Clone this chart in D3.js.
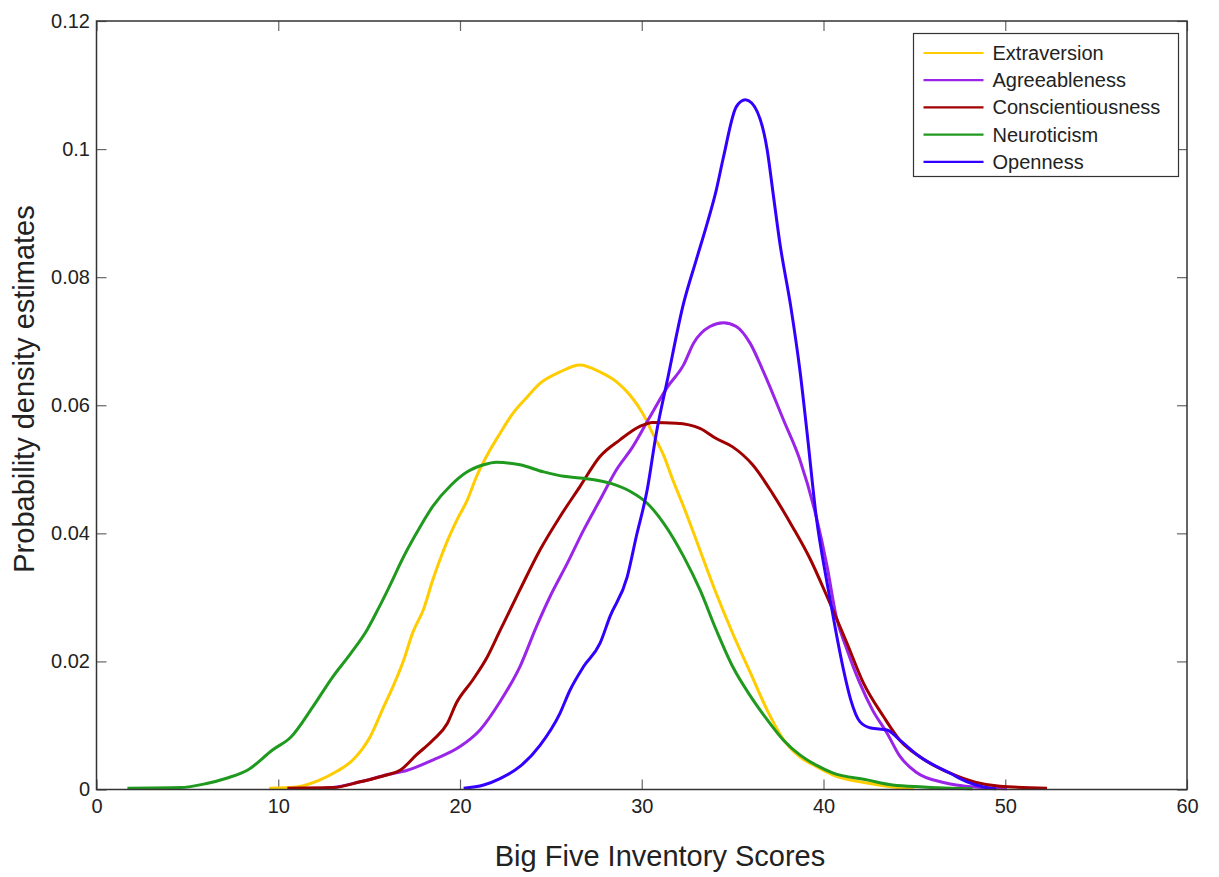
<!DOCTYPE html>
<html>
<head>
<meta charset="utf-8">
<script src="https://cdn.jsdelivr.net/npm/d3@7"></script>
<style>
  body { margin: 0; background: #fff; }
  svg { display: block; font-family: "Liberation Sans", Arial, Helvetica, sans-serif; }
</style>
</head>
<body>
<div id="container"></div>
<script>
/**
 * DATA
 * */
const seriesNames = ["Extraversion", "Agreeableness", "Conscientiousness", "Neuroticism", "Openness"];
const seriesColors = ["#ffcc00", "#9a24e8", "#a00000", "#1f9a1f", "#3300ff"];

const xTicks = [0, 10, 20, 30, 40, 50, 60];
const yTicks = [0, 0.02, 0.04, 0.06, 0.08, 0.1, 0.12];

// [score, density]
const extraversion = [
  [9.5, 0.0002], [11.0, 0.0004], [12.3, 0.0015], [13.2, 0.0028], [14.1, 0.0046], [15.05, 0.0082],
  [15.8, 0.0129], [16.3, 0.016], [16.9, 0.0202], [17.4, 0.0245], [18.0, 0.0282], [18.5, 0.0327],
  [19.1, 0.0374], [19.8, 0.0419], [20.4, 0.0452], [20.9, 0.0488], [21.65, 0.053], [22.2, 0.0556],
  [22.9, 0.0587], [23.7, 0.0613], [24.4, 0.0634], [25.5, 0.0652], [26.6, 0.0663], [27.7, 0.0652],
  [28.6, 0.0637], [29.35, 0.0616], [30.1, 0.0585], [30.6, 0.0556], [31.2, 0.0522], [31.7, 0.0484],
  [32.3, 0.0442], [33.2, 0.0374], [34.1, 0.0306], [35.0, 0.0244], [36.0, 0.0181], [36.9, 0.0124],
  [37.8, 0.0078], [38.7, 0.0051], [39.6, 0.0036], [40.5, 0.0023], [42.4, 0.001], [43.8, 0.0004],
  [45.0, 0.0001]
];

const agreeableness = [
  [12.5, 0.0002], [13.0, 0.0003], [14.5, 0.0012], [16.0, 0.0023], [17.1, 0.003], [18.5, 0.0046],
  [20.0, 0.0067], [21.1, 0.0093], [22.2, 0.0137], [23.3, 0.0192], [24.2, 0.0254], [24.95, 0.0301],
  [25.9, 0.0353], [26.8, 0.0405], [27.7, 0.0452], [28.6, 0.0499], [29.5, 0.0535], [30.45, 0.0582],
  [31.4, 0.0628], [32.3, 0.0663], [32.85, 0.0697], [33.75, 0.0723], [34.5, 0.0729], [35.2, 0.0723],
  [35.96, 0.0697], [36.7, 0.0652], [37.8, 0.0577], [38.7, 0.0515], [39.6, 0.0426], [40.2, 0.0348],
  [40.7, 0.027], [41.3, 0.0218], [42.0, 0.0166], [42.7, 0.0124], [43.5, 0.0088], [44.2, 0.0052],
  [45.1, 0.0027], [46.6, 0.0011], [47.3, 0.0007], [48.8, 0.0003], [50.1, 0.0001]
];

const conscientiousness = [
  [10.5, 0.0002], [13.0, 0.0003], [14.5, 0.0012], [16.0, 0.0023], [16.7, 0.003], [17.6, 0.0054],
  [18.5, 0.0077], [19.3, 0.0103], [19.8, 0.0135], [20.7, 0.0171], [21.5, 0.0207], [22.2, 0.0248],
  [23.3, 0.0312], [24.4, 0.0374], [25.5, 0.0426], [26.6, 0.0473], [27.7, 0.052], [28.8, 0.0546],
  [29.9, 0.0567], [30.6, 0.0573], [31.9, 0.0572], [33.2, 0.0564], [34.1, 0.0548], [35.0, 0.0535],
  [36.1, 0.0507], [37.2, 0.0462], [38.3, 0.041], [39.3, 0.0358], [40.2, 0.0301], [41.3, 0.0228],
  [42.2, 0.0166], [43.3, 0.0114], [44.2, 0.0077], [45.3, 0.0051], [47.0, 0.0025], [48.4, 0.0011],
  [49.7, 0.0005], [52.3, 0.0002]
];

const neuroticism = [
  [1.7, 0.0002], [4.6, 0.0003], [6.0, 0.0009], [7.2, 0.0018], [8.3, 0.003], [9.7, 0.0062],
  [10.7, 0.0082], [11.9, 0.0129], [13.0, 0.0176], [14.0, 0.0213], [14.9, 0.025], [15.5, 0.0282],
  [16.2, 0.0322], [16.8, 0.0358], [17.6, 0.04], [18.5, 0.0442], [19.5, 0.0475], [20.4, 0.0496],
  [21.3, 0.0507], [22.0, 0.0511], [23.3, 0.0507], [24.6, 0.0496], [25.7, 0.0489], [26.8, 0.0486],
  [28.3, 0.0478], [29.4, 0.0465], [30.3, 0.0447], [31.2, 0.0416], [32.3, 0.0364], [33.2, 0.0312],
  [34.1, 0.0249], [35.0, 0.0192], [36.0, 0.0145], [36.9, 0.0109], [37.8, 0.0077], [38.7, 0.0054],
  [39.6, 0.0038], [40.5, 0.0026], [42.4, 0.0015], [43.8, 0.0007], [45.5, 0.0004], [47.0, 0.0002],
  [48.2, 0.0001]
];

const openness = [
  [20.2, 0.0002], [21.3, 0.0007], [22.2, 0.0017], [23.3, 0.0036], [24.4, 0.0069], [25.5, 0.0119],
  [26.05, 0.0155], [26.8, 0.0192], [27.7, 0.0228], [28.25, 0.027], [29.2, 0.0332], [29.7, 0.0395],
  [30.3, 0.0468], [30.8, 0.0556], [31.4, 0.0638], [32.3, 0.0759], [33.0, 0.0827], [33.6, 0.0884],
  [34.1, 0.0936], [34.5, 0.0988], [35.2, 0.1066], [35.7, 0.1077], [36.05, 0.1072], [36.9, 0.0999],
  [37.25, 0.0926], [37.6, 0.0853], [38.2, 0.0754], [38.7, 0.0655], [39.1, 0.0556], [39.6, 0.0426],
  [40.2, 0.0322], [40.7, 0.0244], [41.1, 0.0187], [41.5, 0.014], [42.0, 0.0106], [42.6, 0.0096],
  [43.5, 0.0093], [44.2, 0.0077], [45.3, 0.0051], [47.0, 0.0025], [47.9, 0.0012], [48.8, 0.0004],
  [49.5, 0.0001]
];

const seriesValues = [extraversion, agreeableness, conscientiousness, neuroticism, openness];

/**
 * LAYOUT
 * */
const width = 1219,
  height = 877,
  margin = { top: 21, right: 32, bottom: 87.5, left: 96.5 };
const innerW = width - margin.left - margin.right,
  innerH = height - margin.top - margin.bottom;

const svg = d3.select("#container")
  .append("svg")
  .attr("width", width)
  .attr("height", height);

const g = svg.append("g")
  .attr("transform", `translate(${margin.left},${margin.top})`);

const x = d3.scaleLinear().domain([0, 60]).range([0, innerW]);
const y = d3.scaleLinear().domain([0, 0.12]).range([innerH, 0]);

const fmtY = d => String(+d.toFixed(2));

// axes, ticks point inward (and mirrored on top/right)
function styleAxis(sel, showLabels) {
  sel.select(".domain").remove();
  sel.selectAll(".tick line").attr("stroke", "#666").attr("stroke-width", 1.2);
  sel.selectAll(".tick text")
    .attr("fill", "#222")
    .style("font-size", "20px")
    .style("display", showLabels ? null : "none");
}

g.append("g")
  .attr("transform", `translate(0,${innerH})`)
  .call(d3.axisBottom(x).tickValues(xTicks).tickSizeInner(-10).tickSizeOuter(0).tickPadding(9))
  .call(s => styleAxis(s, true));

g.append("g")
  .call(d3.axisTop(x).tickValues(xTicks).tickSizeInner(-10).tickSizeOuter(0))
  .call(s => styleAxis(s, false));

g.append("g")
  .call(d3.axisLeft(y).tickValues(yTicks).tickFormat(fmtY).tickSizeInner(-10).tickSizeOuter(0).tickPadding(6.5))
  .call(s => styleAxis(s, true));

g.append("g")
  .attr("transform", `translate(${innerW},0)`)
  .call(d3.axisRight(y).tickValues(yTicks).tickSizeInner(-10).tickSizeOuter(0))
  .call(s => styleAxis(s, false));

// the density curves
const line = d3.line()
  .x(d => x(d[0]))
  .y(d => y(d[1]))
  .curve(d3.curveMonotoneX);

g.selectAll(".curve")
  .data(seriesValues)
  .join("path")
  .attr("class", "curve")
  .attr("fill", "none")
  .attr("stroke", (d, i) => seriesColors[i])
  .attr("stroke-width", 3)
  .attr("stroke-linejoin", "round")
  .attr("d", line);

// frame
g.append("rect")
  .attr("width", innerW)
  .attr("height", innerH)
  .attr("fill", "none")
  .attr("stroke", "#333")
  .attr("stroke-width", 1.5);

// legend
const legend = svg.append("g").attr("transform", "translate(913.5,33.5)");
legend.append("rect")
  .attr("width", 265)
  .attr("height", 143)
  .attr("fill", "#fff")
  .attr("stroke", "#333")
  .attr("stroke-width", 1.2);

const rows = legend.selectAll(".row")
  .data(seriesNames)
  .join("g")
  .attr("class", "row")
  .attr("transform", (d, i) => `translate(0,${19.5 + i * 27.2})`);

rows.append("line")
  .attr("x1", 10).attr("x2", 70)
  .attr("stroke", (d, i) => seriesColors[i])
  .attr("stroke-width", 2.2);

rows.append("text")
  .attr("x", 79)
  .attr("dy", "0.35em")
  .attr("fill", "#222")
  .style("font-size", "20px")
  .text(d => d);

// axis titles
svg.append("text")
  .attr("x", 660)
  .attr("y", 866)
  .attr("text-anchor", "middle")
  .attr("fill", "#222")
  .style("font-size", "29px")
  .text("Big Five Inventory Scores");

svg.append("text")
  .attr("transform", "translate(34,389) rotate(-90)")
  .attr("text-anchor", "middle")
  .attr("fill", "#222")
  .style("font-size", "29px")
  .text("Probability density estimates");
</script>
</body>
</html>
